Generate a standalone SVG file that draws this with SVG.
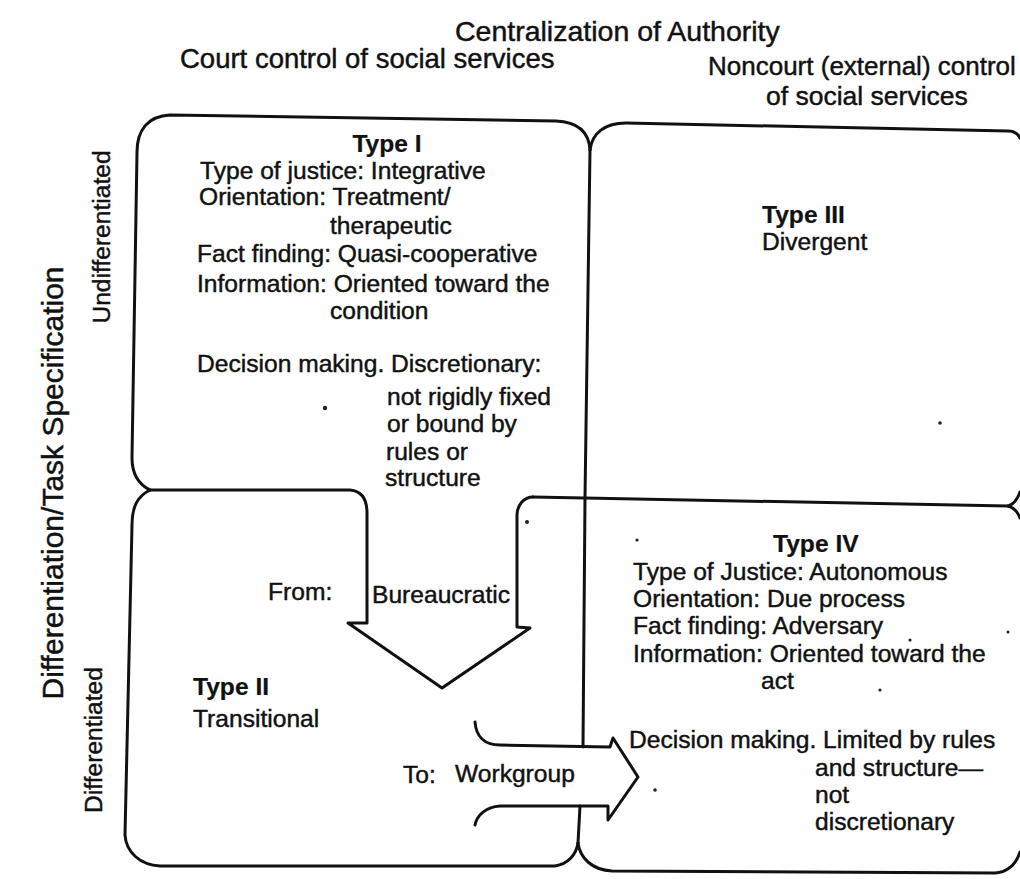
<svg xmlns="http://www.w3.org/2000/svg" width="1020" height="879" viewBox="0 0 1020 879">
<style>
.t{font-family:"Liberation Sans",Arial,sans-serif;font-size:24.6px;fill:#111;stroke:#111;stroke-width:0.45}
.b{font-weight:bold;stroke-width:0.2}
.h{font-family:"Liberation Sans",Arial,sans-serif;fill:#111;stroke:#111;stroke-width:0.45}
.ln{fill:none;stroke:#111;stroke-width:3;stroke-linejoin:round;stroke-linecap:round}
.dot{fill:#222}
</style>
<rect width="1020" height="879" fill="#fff"/>
<g id="headers">
<text class="h" x="455" y="41" font-size="28.5">Centralization of Authority</text>
<text class="h" x="180" y="68" font-size="27.5">Court control of social services</text>
<text class="h" x="708" y="75" font-size="26">Noncourt (external) control</text>
<text class="h" x="766" y="105" font-size="26.5">of social services</text>
<text class="h" font-size="30" text-anchor="middle" transform="translate(63,483) rotate(-90)">Differentiation/Task Specification</text>
<text class="t" font-size="24" text-anchor="middle" transform="translate(110,237) rotate(-90)">Undifferentiated</text>
<text class="t" font-size="24" text-anchor="middle" transform="translate(102,740) rotate(-90)">Differentiated</text>
</g>
<g id="type1">
<path class="ln" d="M150,490 C138,484 132,474 132,458 L137,152 C137,130 148,116 170,115 L556,121 C578,122 589,132 590,150"/>
<text class="t b" x="387" y="152" text-anchor="middle">Type I</text>
<text class="t" x="200" y="179">Type of justice: Integrative</text>
<text class="t" x="199" y="205">Orientation: Treatment/</text>
<text class="t" x="330" y="234">therapeutic</text>
<text class="t" x="197" y="262">Fact finding: Quasi-cooperative</text>
<text class="t" x="197" y="292">Information: Oriented toward the</text>
<text class="t" x="330" y="319">condition</text>
<text class="t" x="197" y="372">Decision making. Discretionary:</text>
<text class="t" x="387" y="405">not rigidly fixed</text>
<text class="t" x="387" y="432">or bound by</text>
<text class="t" x="386" y="460">rules or</text>
<text class="t" x="385" y="486">structure</text>
</g>
<g id="type3">
<path class="ln" d="M590,150 C592,133 605,123 626,123 L1008,131 C1014,131 1018,134 1020,138"/>
<path class="ln" d="M1008,506 C1014,504 1018,498 1020,492"/>
<text class="t b" x="762" y="223">Type III</text>
<text class="t" x="762" y="250">Divergent</text>
</g>
<g id="type2">
<path class="ln" d="M150,490 C138,496 132,506 132,525 L125,835 C126,852 140,865 160,866 L555,866 C568,864 576,855 578,843"/>
<text class="t b" x="193" y="695">Type II</text>
<text class="t" x="193" y="727">Transitional</text>
</g>
<g id="type4">
<path class="ln" d="M533,497 L1008,506 C1014,508 1018,512 1020,518"/>
<path class="ln" d="M578,843 C580,858 592,870 612,871 L995,873 C1008,872 1016,864 1020,852"/>
<text class="t b" x="773" y="552">Type IV</text>
<text class="t" x="633" y="580">Type of Justice: Autonomous</text>
<text class="t" x="633" y="607">Orientation: Due process</text>
<text class="t" x="633" y="634">Fact finding: Adversary</text>
<text class="t" x="633" y="662">Information: Oriented toward the</text>
<text class="t" x="761" y="689">act</text>
<text class="t" x="629" y="748">Decision making. Limited by rules</text>
<text class="t" x="815" y="776">and structure—</text>
<text class="t" x="815" y="803">not</text>
<text class="t" x="815" y="830">discretionary</text>
</g>
<g id="connectors">
<path id="divider" class="ln" d="M590,150 L585,498 L583,747 M580,806 L578,843"/>
<path id="arrow-bureaucratic" class="ln" d="M150,490 L350,490 C362,491 367,500 367,513 L367,623 L348,623 L442,688 L530,628 L517,627 L517,515 C517,505 524,497 533,497"/>
<path id="arrow-workgroup" class="ln" d="M475,722 C476,736 484,745 500,745 L610,747 L613,738 L638,777 L608,820 L608,806 L500,806 C486,807 477,815 475,825"/>
<text class="t" x="268" y="600">From:</text>
<text class="t" x="372" y="603">Bureaucratic</text>
<text class="t" x="403" y="783">To:</text>
<text class="t" x="455" y="782">Workgroup</text>
</g>
<g id="specks">
<circle class="dot" cx="325" cy="408" r="2.2"/>
<circle class="dot" cx="940" cy="423" r="1.8"/>
<circle class="dot" cx="527" cy="522" r="2"/>
<circle class="dot" cx="637" cy="540" r="1.6"/>
<circle class="dot" cx="910" cy="640" r="1.6"/>
<circle class="dot" cx="880" cy="690" r="1.6"/>
<circle class="dot" cx="655" cy="790" r="1.8"/>
<circle class="dot" cx="1008" cy="632" r="1.5"/>
</g>
</svg>
